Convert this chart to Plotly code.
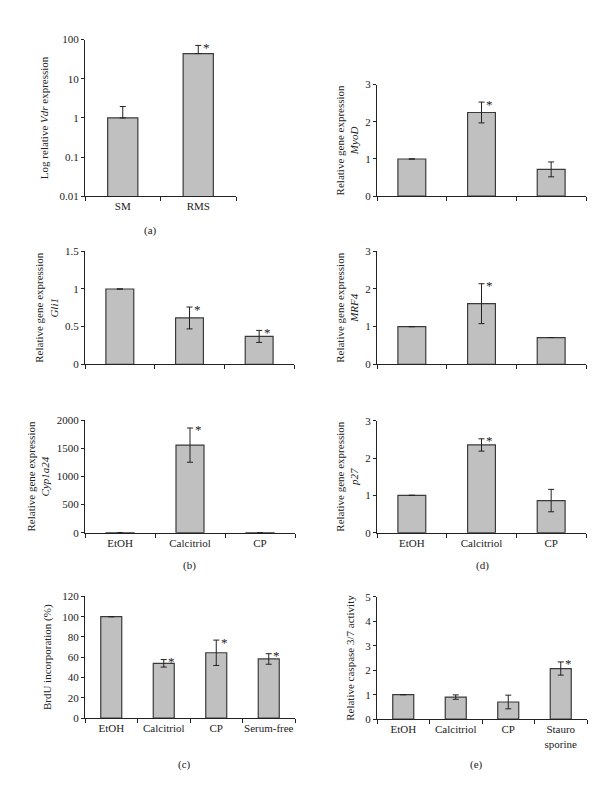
import math
import plotly.graph_objects as go

# ---------------- data ----------------
cats_a = ["SM", "RMS"]
vdr = [1.0, 44.0]
vdr_err = [0.95, 27.0]
vdr_sig = [False, True]

cats3 = ["EtOH", "Calcitriol", "CP"]
myod = [1.0, 2.25, 0.72]
myod_err = [0.0, 0.28, 0.20]
myod_sig = [False, True, False]

gli1 = [1.0, 0.615, 0.37]
gli1_err = [0.0, 0.145, 0.08]
gli1_sig = [False, True, True]

mrf4 = [1.0, 1.61, 0.71]
mrf4_err = [0.0, 0.53, 0.0]
mrf4_sig = [False, True, False]

cyp24 = [1.0, 1560.0, 1.0]
cyp24_err = [0.0, 305.0, 0.0]
cyp24_sig = [False, True, False]

p27 = [1.0, 2.35, 0.86]
p27_err = [0.0, 0.165, 0.30]
p27_sig = [False, True, False]

cats_c = ["EtOH", "Calcitriol", "CP", "Serum-free"]
brdu = [100.0, 54.0, 64.4, 58.3]
brdu_err = [0.0, 3.7, 12.5, 5.2]
brdu_sig = [False, True, True, True]

cats_e = ["EtOH", "Calcitriol", "CP", "Stauro<br>sporine"]
casp = [1.0, 0.90, 0.70, 2.07]
casp_err = [0.0, 0.09, 0.28, 0.27]
casp_sig = [False, False, False, True]

# ---------------- layout helpers ----------------
W, H = 600, 787
FONT = "Liberation Serif"
BAR_FILL = "#c0c0c0"
BAR_LINE = "#3a3a3a"
INK = "#222222"

fig = go.Figure()
layout = dict(
    width=W, height=H, margin=dict(l=0, r=0, t=0, b=0),
    paper_bgcolor="white", plot_bgcolor="white", showlegend=False,
    font=dict(family=FONT, size=11, color=INK), bargap=0.6,
)
annotations = []


def add_panel(i, cats, vals, errs, sig, px, py, yaxis_cfg, title, show_xlabels,
              one_sided=False, log=False, standoff=8):
    xa = "xaxis" if i == 1 else f"xaxis{i}"
    ya = "yaxis" if i == 1 else f"yaxis{i}"
    xr = "x" if i == 1 else f"x{i}"
    yr = "y" if i == 1 else f"y{i}"
    if one_sided:
        err = dict(type="data", array=errs, arrayminus=[0] * len(errs),
                   symmetric=False, color=INK, thickness=1, width=3)
    else:
        err = dict(type="data", array=errs, color=INK, thickness=1, width=3)
    fig.add_trace(go.Bar(
        x=cats, y=vals, xaxis=xr, yaxis=yr, error_y=err,
        marker=dict(color=BAR_FILL, line=dict(color=BAR_LINE, width=1.2)),
    ))
    layout[xa] = dict(
        domain=[px[0] / W, px[1] / W], anchor=yr, type="category",
        showline=True, linecolor=INK, linewidth=1, ticks="outside",
        tickson="boundaries", ticklen=4, tickcolor=INK, showgrid=False,
        showticklabels=show_xlabels, tickfont=dict(size=11), zeroline=False,
        tickangle=0, fixedrange=True,
    )
    yc = dict(
        domain=[1 - py[1] / H, 1 - py[0] / H], anchor=xr,
        showline=True, linecolor=INK, linewidth=1, ticks="outside",
        ticklen=3, tickcolor=INK, showgrid=False, zeroline=False,
        tickfont=dict(size=11),
        title=dict(text=title, font=dict(size=11), standoff=standoff),
        fixedrange=True,
    )
    yc.update(yaxis_cfg)
    layout[ya] = yc
    for c, v, e, s in zip(cats, vals, errs, sig):
        if s:
            top = v + e
            annotations.append(dict(
                x=c, y=math.log10(top) if log else top, xref=xr, yref=yr,
                text="*", showarrow=False, xshift=8, yshift=-2,
                yanchor="middle", xanchor="center", font=dict(size=13, color=INK),
            ))


add_panel(1, cats_a, vdr, vdr_err, vdr_sig, (77, 228), (26, 185),
          dict(type="log", range=[-2, 2], tickvals=[0.01, 0.1, 1, 10, 100],
               ticktext=["0.01", "0.1", "1", "10", "100"]),
          "Log relative <i>Vdr</i> expression", True, one_sided=True, log=True)
add_panel(2, cats3, myod, myod_err, myod_sig, (369, 578), (71.7, 185),
          dict(range=[0, 3], tickvals=[0, 1, 2, 3]),
          "Relative gene expression<br><i>MyoD</i>", False, standoff=4)
add_panel(3, cats3, gli1, gli1_err, gli1_sig, (77, 286), (241, 355.7),
          dict(range=[0, 1.5], tickvals=[0, 0.5, 1, 1.5], ticktext=["0", "0.5", "1", "1.5"]),
          "Relative gene expression<br><i>Gli1</i>", False, standoff=4)
add_panel(4, cats3, mrf4, mrf4_err, mrf4_sig, (369, 578), (241, 355.7),
          dict(range=[0, 3], tickvals=[0, 1, 2, 3]),
          "Relative gene expression<br><i>MRF4</i>", False, standoff=4)
add_panel(5, cats3, cyp24, cyp24_err, cyp24_sig, (77, 287), (412.7, 526.7),
          dict(range=[0, 2000], tickvals=[0, 500, 1000, 1500, 2000]),
          "Relative gene expression<br><i>Cyp1a24</i>", True, standoff=4)
add_panel(6, cats3, p27, p27_err, p27_sig, (369, 578), (413, 526.7),
          dict(range=[0, 3], tickvals=[0, 1, 2, 3]),
          "Relative gene expression<br><i>p27</i>", True, standoff=4)
add_panel(7, cats_c, brdu, brdu_err, brdu_sig, (77, 287), (591.4, 715),
          dict(range=[0, 120], tickvals=[0, 20, 40, 60, 80, 100, 120]),
          "BrdU incorporation (%)", True)
add_panel(8, cats_e, casp, casp_err, casp_sig, (369, 579), (592, 716),
          dict(range=[0, 5], tickvals=[0, 1, 2, 3, 4, 5]),
          "Relative caspase 3/7 activity", True)

panel_labels = [("(a)", 142, 220), ("(b)", 181, 560), ("(c)", 176, 762),
                ("(d)", 474, 560), ("(e)", 468, 762)]
for t, x, y in panel_labels:
    annotations.append(dict(text=t, x=x / W, y=1 - y / H, xref="paper", yref="paper",
                            showarrow=False, xanchor="center", yanchor="middle",
                            font=dict(size=11, color=INK)))

layout["annotations"] = annotations
fig.update_layout(**layout)
fig.write_html("out.html")
